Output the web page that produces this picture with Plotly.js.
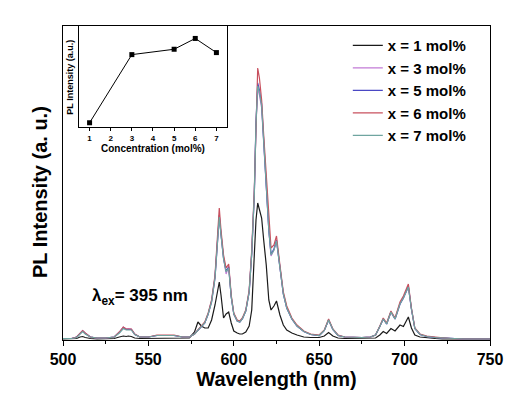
<!DOCTYPE html>
<html>
<head>
<meta charset="utf-8">
<script src="https://cdn.plot.ly/plotly-3.0.1.min.js"></script>
<style>html,body{margin:0;padding:0;background:#fff;}#chart{width:522px;height:400px;}</style>
</head>
<body>
<div id="chart"></div>
<script>
// Wavelength grid (nm)
const wavelength = [500,505,508,510,511.5,513,516,520,525,530,533,535.3,537,538.2,540,542,545,550,555,560,565,570,574,577,579,581,583,585,587,589,590.5,591.5,592.5,594,595.5,597,598.5,600,602,603.5,605,607,609,610.5,612,613,614,615,616.3,617.5,619,620.5,621.8,623.5,625,627,629,631,634,637,641,645,650,653,655.5,658,661,665,670,675,680,683,685.5,687.5,689.5,692,694.4,697.3,699.3,702.2,704,706,709,713,718,722,727,735,750];

// PL intensity (a.u.)
const x1 = [1,1,1.5,3,3.5,2.5,1.5,1,1,1.5,3,4,3.5,4,3.5,2,1.5,1.5,2,2,2,1.5,2,8,18,14,12,12,20,35,50,58,45,22,26,28,17,9,7,6,6,8,14,30,85,120,137,131,122,100,75,40,30,34,39,25,15,10,7,5,3,2.5,2.5,4,7.5,4,2,1.5,1.5,1.5,1.5,2,5,8.5,6.5,11.5,9,15,13.5,23,12,5,3,2,1.5,1,1,1,1];
const x3 = [1.5,1.5,3,7,9.5,7,3,2,2,3,8,13,11,11.5,11,6,3,3,4.5,4.5,4.5,3,3,6,10,13,17,26,38,62,95,123,106,82,66,74,43,26,19,18,21,29,48,86,145,215,252,245,232,196,160,110,84,90,99,72,46,32,21,14,8.5,5.5,4.5,9.5,20,10.5,4.5,3,2.5,2.5,3,5,13.5,21,16,28,21,36,42,53,31,11.5,5.5,3.5,2.5,2,1.5,1,1];
const x5 = [1.5,1.5,3,6.5,9,6.5,3,2,2,3,7.5,12,10.5,10.5,10.5,5.5,3,3,4.5,4.5,4.5,3,3,6,10,13,17,26,39,63,96,125,106,82,69,73,43,26,19,18,21,29,48,87,146,218,257,250,236,198,161,110,86,91,100,72,46,32,21,14,8.5,5.5,4.5,9.5,20,10.5,4.5,3,2.5,2.5,3,5,13.5,21,16,28,21,36,42,54,31,11.5,5.5,3.5,2.5,2,1.5,1,1];
const x6 = [1.5,1.5,3,7,9.5,7,3,2,2,3,8,13,11,11,11,6,3,3,5,5,5,3,3,6,10,13,18,27,40,65,100,132,110,85,72,76,45,27,20,19,22,30,50,90,150,225,272,262,240,205,165,115,92,95,104,75,48,34,22,15,9,6,5,10,21,11,5,3,2.5,2.5,3,5,14,22,17,29,22,38,44,56,32,12,6,4,3,2,1.5,1,1];
const x7 = [1.5,1.5,2.5,6,8.5,6,3,2,2,3,7,11.5,10,10,10,5.5,3,3,4.5,4.5,4.5,3,3,6,10,13,17,26,38,62,95,123,105,81,68,72,43,26,19,18,21,29,48,86,145,216,254,248,234,197,160,110,85,90,99,72,46,32,21,14,8.5,5.5,4.5,9.5,20,10.5,4.5,3,2.5,2.5,3,5,13.5,21,16,28,21,36,42,53,31,11.5,5.5,3.5,2.5,2,1.5,1,1];

const seriesNames = ['x = 1 mol%','x = 3 mol%','x = 5 mol%','x = 6 mol%','x = 7 mol%'];
const seriesColors = ['#1a1a1a','#c27ad6','#4a48c4','#c8505e','#6fa5a0'];

// Inset: integrated PL intensity vs concentration
const concentration = [1,3,5,6,7];
const insetIntensity = [4.3,71.7,77,87.7,73.7];
const insetTicks = [1,2,3,4,5,6,7];

const FONT = 'Liberation Sans, Arial, sans-serif';
const allSeries = [x1,x3,x5,x6,x7];
const traces = allSeries.map((ys,i)=>({
  x: wavelength, y: ys, type:'scatter', mode:'lines',
  name: seriesNames[i],
  line:{color:seriesColors[i], width:1.2},
  xaxis:'x', yaxis:'y'
}));
traces.push({
  x: concentration, y: insetIntensity, type:'scatter', mode:'lines+markers',
  line:{color:'#000', width:1}, marker:{symbol:'square', size:5, color:'#000'},
  xaxis:'x2', yaxis:'y2', showlegend:false
});

const layout = {
  width:522, height:400,
  margin:{l:63, r:32, t:26, b:60},
  paper_bgcolor:'#fff', plot_bgcolor:'#fff',
  showlegend:true,
  legend:{x:0.667, y:0.99, xanchor:'left', yanchor:'top', bgcolor:'rgba(0,0,0,0)',
    font:{family:FONT, size:15, color:'#000', weight:'bold'}, itemwidth:30, tracegroupgap:0},
  xaxis:{range:[500,750], tickvals:[500,550,600,650,700,750], ticks:'outside', ticklen:5, tickwidth:1,
    tickcolor:'#000', minor:{tickvals:[525,575,625,675,725], ticks:'outside', ticklen:3, tickcolor:'#000'},
    showline:true, mirror:true, linecolor:'#000', linewidth:1, showgrid:false, zeroline:false,
    tickfont:{family:FONT, size:16, color:'#000', weight:'bold'},
    title:{text:'Wavelength (nm)', font:{family:FONT, size:20, color:'#000', weight:'bold'}, standoff:3}},
  yaxis:{range:[0,314], showticklabels:false, ticks:'', showline:true, mirror:true, linecolor:'#000',
    linewidth:1, showgrid:false, zeroline:false},
  xaxis2:{domain:[0.0375,0.384], anchor:'y2', range:[0.5,7.5], tickvals:insetTicks, ticks:'outside',
    ticklen:3, tickcolor:'#000', showline:true, mirror:true, linecolor:'#000', linewidth:1,
    showgrid:false, zeroline:false, tickfont:{family:FONT, size:8, color:'#000', weight:'bold'},
    title:{text:'Concentration (mol%)', font:{family:FONT, size:10, color:'#000', weight:'bold'}, standoff:2}},
  yaxis2:{domain:[0.678,1], anchor:'x2', range:[0,100], showticklabels:false, ticks:'',
    showline:true, mirror:true, linecolor:'#000', linewidth:1, showgrid:false, zeroline:false},
  annotations:[
    {text:'PL Intensity (a. u.)', xref:'paper', yref:'paper', x:-0.054, y:0.471, textangle:-90,
      showarrow:false, xanchor:'center', yanchor:'middle',
      font:{family:FONT, size:20, color:'#000', weight:'bold'}},
    {text:'PL Intensity (a.u.)', xref:'paper', yref:'paper', x:0.016, y:0.838, textangle:-90,
      showarrow:false, xanchor:'center', yanchor:'middle',
      font:{family:FONT, size:9, color:'#000', weight:'bold'}},
    {text:'λ<sub>ex</sub>= 395 nm', xref:'paper', yref:'paper', x:0.063, y:0.137,
      showarrow:false, xanchor:'left', yanchor:'middle',
      font:{family:FONT, size:17, color:'#000', weight:'bold'}}
  ]
};
Plotly.newPlot('chart', traces, layout, {staticPlot:true, displayModeBar:false});
</script>
</body>
</html>
